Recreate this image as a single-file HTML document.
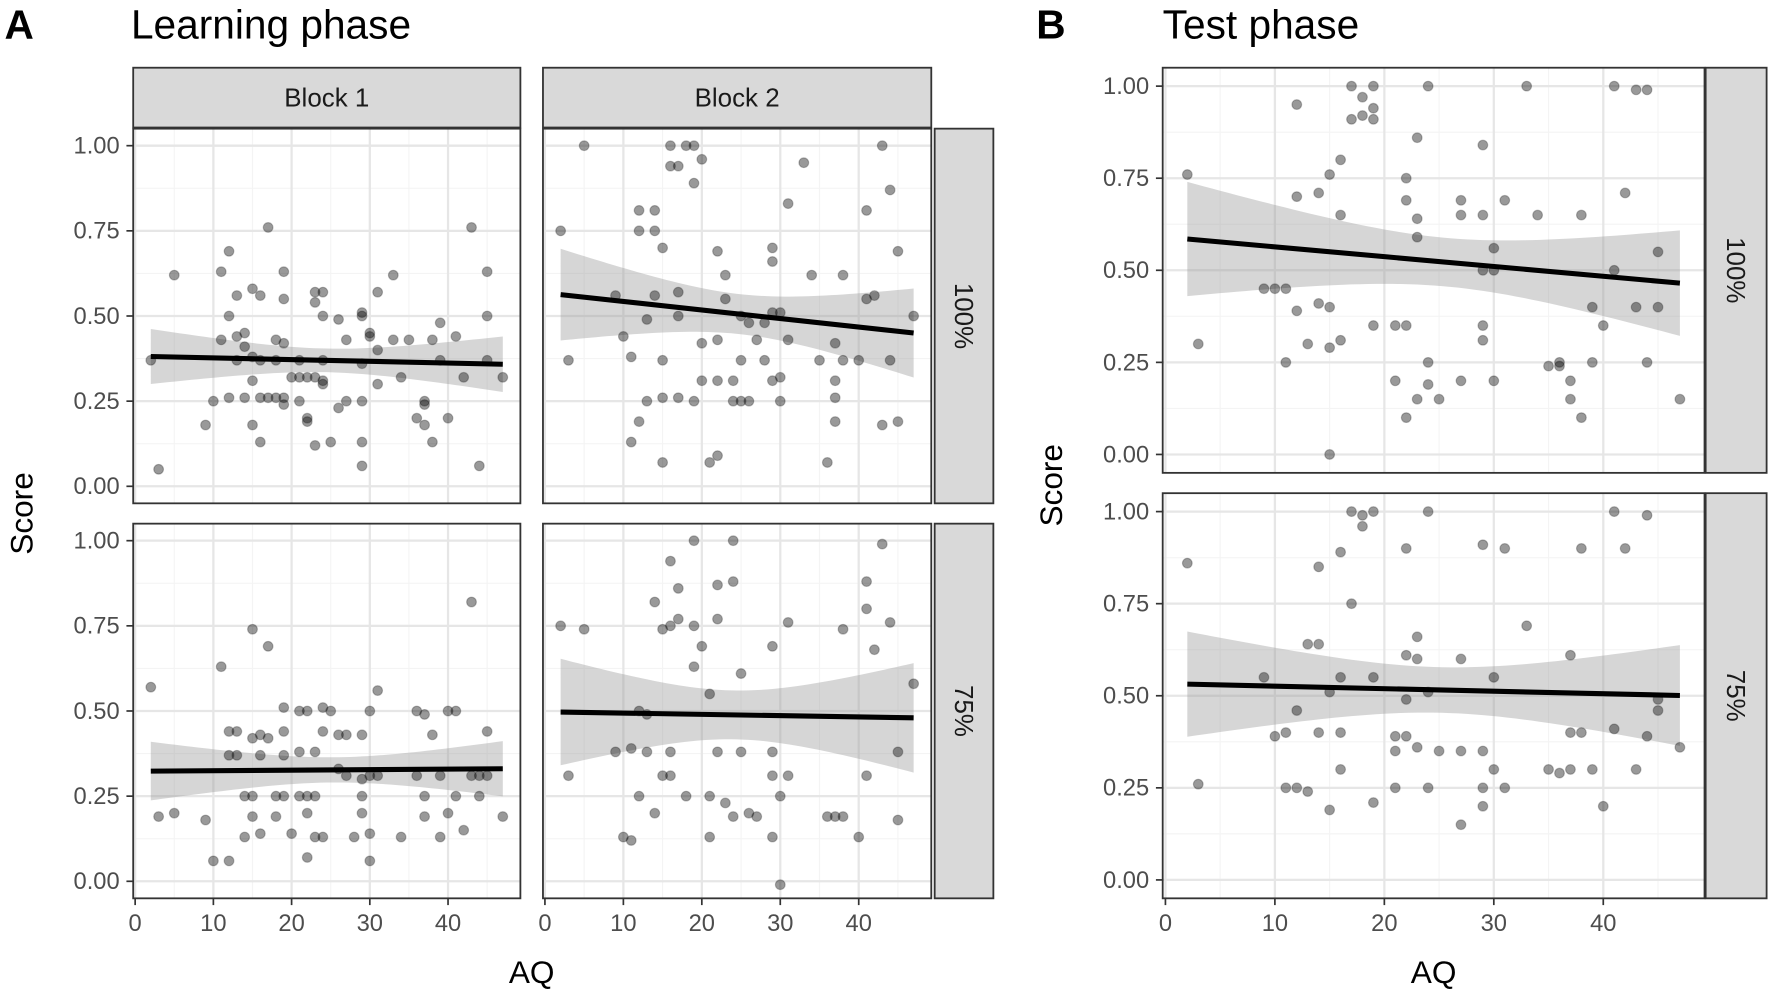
<!DOCTYPE html>
<html><head><meta charset="utf-8">
<style>
html,body{margin:0;padding:0;background:#fff;}
svg{display:block;font-family:"Liberation Sans",Arial,sans-serif;}
</style></head>
<body>
<svg id="chart" width="1770" height="992" viewBox="0 0 1568 879" preserveAspectRatio="none" xmlns="http://www.w3.org/2000/svg">
<text x="4" y="34" font-size="36" font-weight="bold">A</text>
<text x="116" y="34" font-size="36">Learning phase</text>
<text x="918" y="34" font-size="36" font-weight="bold">B</text>
<text x="1030" y="34" font-size="36">Test phase</text>
<text transform="translate(29,455) rotate(-90)" text-anchor="middle" font-size="28">Score</text>
<text transform="translate(941,430) rotate(-90)" text-anchor="middle" font-size="28">Score</text>
<text x="471" y="871" text-anchor="middle" font-size="28">AQ</text>
<text x="1270" y="871" text-anchor="middle" font-size="28">AQ</text>
</svg>
<script>
const xTicks=[0,10,20,30,40];
const yTicks=[0,0.25,0.5,0.75,1];
const yTickLabels=["0.00","0.25","0.50","0.75","1.00"];
const learnB1_100=[[2,.37],[3,.05],[5,.62],[9,.18],[10,.25],[11,.43],[11,.63],[12,.69],[12,.5],[12,.26],[13,.44],[13,.37],[13,.56],[14,.45],[14,.41],[14,.26],[15,.18],[15,.31],[15,.38],[15,.58],[16,.26],[16,.13],[16,.56],[16,.37],[17,.76],[17,.26],[18,.26],[18,.37],[18,.43],[19,.26],[19,.63],[19,.55],[19,.42],[19,.24],[20,.32],[21,.37],[21,.32],[21,.25],[22,.2],[22,.32],[22,.19],[23,.32],[23,.12],[23,.57],[23,.54],[24,.37],[24,.57],[24,.31],[24,.5],[24,.3],[25,.13],[26,.49],[26,.23],[27,.43],[27,.25],[29,.5],[29,.51],[29,.36],[29,.13],[29,.06],[29,.25],[30,.45],[30,.44],[31,.3],[31,.57],[31,.4],[33,.62],[33,.43],[34,.32],[35,.43],[36,.2],[37,.25],[37,.24],[37,.18],[38,.13],[38,.43],[39,.37],[39,.48],[40,.2],[41,.44],[42,.32],[43,.76],[44,.06],[45,.63],[45,.5],[45,.37],[47,.32]];
const learnB2_100=[[2,.75],[3,.37],[5,1.0],[9,.56],[10,.44],[11,.13],[11,.38],[12,.81],[12,.75],[12,.19],[13,.49],[13,.25],[14,.81],[14,.56],[14,.75],[15,.07],[15,.26],[15,.37],[15,.7],[16,1.0],[16,.94],[17,.94],[17,.5],[17,.57],[17,.26],[18,1.0],[19,1.0],[19,.89],[19,.25],[20,.42],[20,.31],[20,.96],[21,.07],[22,.09],[22,.31],[22,.43],[22,.69],[23,.55],[23,.62],[24,.25],[24,.31],[25,.5],[25,.37],[25,.25],[26,.48],[26,.25],[27,.43],[28,.48],[28,.37],[29,.31],[29,.7],[29,.66],[29,.51],[30,.32],[30,.25],[30,.51],[31,.83],[31,.43],[33,.95],[34,.62],[35,.37],[36,.07],[37,.31],[37,.26],[37,.19],[37,.42],[38,.37],[38,.62],[40,.37],[41,.81],[41,.55],[42,.56],[43,1.0],[43,.18],[44,.87],[44,.37],[45,.19],[45,.69],[47,.5]];
const learnB1_75=[[2,.57],[3,.19],[5,.2],[9,.18],[10,.06],[11,.63],[12,.06],[12,.44],[12,.37],[13,.44],[13,.37],[14,.13],[14,.25],[15,.74],[15,.25],[15,.42],[15,.19],[16,.43],[16,.14],[16,.37],[17,.69],[17,.42],[18,.25],[18,.19],[19,.51],[19,.44],[19,.25],[19,.37],[20,.14],[21,.5],[21,.25],[21,.38],[22,.07],[22,.25],[22,.2],[22,.5],[23,.38],[23,.13],[23,.25],[24,.44],[24,.51],[24,.13],[25,.5],[26,.43],[26,.33],[27,.43],[27,.31],[28,.13],[29,.25],[29,.43],[29,.3],[29,.2],[30,.5],[30,.06],[30,.31],[30,.14],[31,.56],[31,.31],[34,.13],[36,.31],[36,.5],[37,.49],[37,.25],[37,.19],[38,.43],[39,.13],[39,.31],[40,.5],[40,.2],[41,.5],[41,.25],[42,.15],[43,.82],[43,.31],[44,.25],[44,.31],[45,.31],[45,.44],[47,.19]];
const learnB2_75=[[2,.75],[3,.31],[5,.74],[9,.38],[10,.13],[11,.12],[11,.39],[12,.5],[12,.25],[13,.49],[13,.38],[14,.82],[14,.2],[15,.74],[15,.31],[16,.94],[16,.31],[16,.38],[16,.75],[17,.77],[17,.86],[18,.25],[19,1.0],[19,.63],[19,.75],[20,.69],[21,.25],[21,.55],[21,.13],[22,.87],[22,.38],[22,.77],[23,.23],[24,.19],[24,.88],[24,1.0],[25,.61],[25,.38],[26,.2],[27,.19],[29,.69],[29,.38],[29,.13],[29,.31],[30,-.01],[30,.25],[31,.76],[31,.31],[36,.19],[37,.19],[38,.74],[38,.19],[40,.13],[41,.88],[41,.8],[41,.31],[42,.68],[43,.99],[44,.76],[45,.18],[45,.38],[47,.58]];
const test100=[[2,.76],[3,.3],[9,.45],[10,.45],[11,.45],[11,.25],[12,.95],[12,.7],[12,.39],[13,.3],[14,.71],[14,.41],[15,.76],[15,.29],[15,0],[15,.4],[16,.31],[16,.65],[16,.8],[17,1.0],[17,.91],[18,.97],[18,.92],[19,1.0],[19,.91],[19,.35],[19,.94],[21,.35],[21,.2],[22,.75],[22,.69],[22,.35],[22,.1],[23,.86],[23,.64],[23,.15],[23,.59],[24,1.0],[24,.25],[24,.19],[25,.15],[27,.69],[27,.65],[27,.2],[29,.65],[29,.84],[29,.5],[29,.35],[29,.31],[30,.2],[30,.56],[30,.5],[31,.69],[33,1.0],[34,.65],[35,.24],[36,.25],[36,.24],[37,.2],[37,.15],[38,.65],[38,.1],[39,.25],[39,.4],[40,.35],[41,.5],[41,1.0],[42,.71],[43,.4],[43,.99],[44,.99],[44,.25],[45,.55],[45,.4],[47,.15]];
const test75=[[2,.86],[3,.26],[9,.55],[10,.39],[11,.4],[11,.25],[12,.46],[12,.25],[13,.24],[13,.64],[14,.85],[14,.4],[14,.64],[15,.51],[15,.19],[16,.55],[16,.4],[16,.3],[16,.89],[17,1.0],[17,.75],[18,.99],[18,.96],[19,1.0],[19,.21],[19,.55],[21,.25],[21,.39],[21,.35],[22,.9],[22,.61],[22,.49],[22,.39],[23,.66],[23,.36],[23,.6],[24,1.0],[24,.25],[24,.51],[25,.35],[27,.6],[27,.35],[27,.15],[29,.91],[29,.35],[29,.25],[29,.2],[30,.3],[30,.55],[31,.9],[31,.25],[33,.69],[35,.3],[36,.29],[37,.3],[37,.4],[37,.61],[38,.9],[38,.4],[39,.3],[40,.2],[41,.41],[41,1.0],[42,.9],[43,.3],[44,.99],[44,.39],[45,.49],[45,.46],[47,.36]];

const NS="http://www.w3.org/2000/svg";
const svg=document.getElementById('chart');
function mk(tag,attrs,parent){const e=document.createElementNS(NS,tag);for(const k in attrs)e.setAttribute(k,attrs[k]);(parent||svg).appendChild(e);return e;}

function panel(name,L,T,W,H,data,showY,showX){
  const xmin=-0.25,xmax=49.25,ymin=-0.05,ymax=1.05;
  const sx=v=>L+(v-xmin)/(xmax-xmin)*W;
  const sy=v=>T+H-(v-ymin)/(ymax-ymin)*H;
  const g=mk('g',{});
  
  
  mk('rect',{x:L,y:T,width:W,height:H,fill:'#fff'},g);
  for(let v=5;v<49;v+=10){mk('line',{x1:sx(v),x2:sx(v),y1:T,y2:T+H,stroke:'#f4f4f4','stroke-width':1},g);}
  for(let v=0.125;v<1.05;v+=0.25){mk('line',{x1:L,x2:L+W,y1:sy(v),y2:sy(v),stroke:'#f4f4f4','stroke-width':1},g);}
  xTicks.forEach(v=>{const l=mk('line',{x1:sx(v),x2:sx(v),y1:T,y2:T+H,stroke:'#e6e6e6','stroke-width':2},g);
    
    });
  yTicks.forEach(v=>{const l=mk('line',{x1:L,x2:L+W,y1:sy(v),y2:sy(v),stroke:'#e6e6e6','stroke-width':2},g);
    
    });
  const n=data.length;let mx=0,my=0;data.forEach(d=>{mx+=d[0];my+=d[1];});mx/=n;my/=n;
  let sxx=0,sxy=0;data.forEach(d=>{sxx+=(d[0]-mx)**2;sxy+=(d[0]-mx)*(d[1]-my);});
  const b=sxy/sxx,a=my-b*mx;let sse=0;data.forEach(d=>{sse+=(d[1]-a-b*d[0])**2;});
  const s=Math.sqrt(sse/(n-2)),t=1.99;
  const x0=Math.min(...data.map(d=>d[0])),x1=Math.max(...data.map(d=>d[0]));
  const up=[],lo=[];
  for(let i=0;i<=60;i++){const x=x0+(x1-x0)*i/60;const f=a+b*x;const se=s*Math.sqrt(1/n+(x-mx)**2/sxx);
    up.push(sx(x)+','+sy(f+t*se));lo.unshift(sx(x)+','+sy(f-t*se));}
  const rib=mk('polygon',{points:up.concat(lo).join(' '),fill:'#999',opacity:0.4},g);
  
  
  data.forEach(d=>{const c=mk('circle',{cx:sx(d[0]),cy:sy(d[1]),r:4.3,fill:'rgba(0,0,0,0.4)',stroke:'rgba(0,0,0,0.25)','stroke-width':1},g);
    
    });
  const rl=mk('line',{x1:sx(x0),y1:sy(a+b*x0),x2:sx(x1),y2:sy(a+b*x1),stroke:'#000','stroke-width':4.5},g);
  
  
  mk('rect',{x:L,y:T,width:W,height:H,fill:'none',stroke:'#333','stroke-width':1.6},g);
  if(showY){yTicks.forEach((v,i)=>{mk('line',{x1:L-6,x2:L,y1:sy(v),y2:sy(v),stroke:'#333','stroke-width':1.5},g);
    const tx=mk('text',{x:L-12,y:sy(v)+7,'text-anchor':'end','font-size':21,fill:'#4d4d4d'},g);tx.textContent=yTickLabels[i];
    
    });}
  if(showX){xTicks.forEach(v=>{mk('line',{x1:sx(v),x2:sx(v),y1:T+H,y2:T+H+6,stroke:'#333','stroke-width':1.5},g);
    const tx=mk('text',{x:sx(v),y:T+H+29,'text-anchor':'middle','font-size':21,fill:'#4d4d4d'},g);tx.textContent=v;
    
    });}
}
function strip(name,x,y,w,h,label,rot){
  const r=mk('rect',{x:x,y:y,width:w,height:h,fill:'#d9d9d9',stroke:'#333','stroke-width':1.6});
  
  
  const cx=x+w/2,cy=y+h/2;
  const t=mk('text',rot?{transform:`translate(${cx-8},${cy}) rotate(90)`,'text-anchor':'middle','font-size':23,fill:'#1a1a1a'}:{x:cx,y:cy+8,'text-anchor':'middle','font-size':23,fill:'#1a1a1a'});
  t.textContent=label;
  
  
}
strip('strip-block-1',118,60,343,53,'Block 1',false);
strip('strip-block-2',481,60,344,53,'Block 2',false);
strip('strip-a-100',828,114,52,332,'100%',true);
strip('strip-a-75',828,464,52,332,'75%',true);
strip('strip-b-100',1511,60,54,359,'100%',true);
strip('strip-b-75',1511,437,54,359,'75%',true);
panel('panel-learning-block1-100',118,114,343,332,learnB1_100,true,false);
panel('panel-learning-block2-100',481,114,344,332,learnB2_100,false,false);
panel('panel-learning-block1-75',118,464,343,332,learnB1_75,true,true);
panel('panel-learning-block2-75',481,464,344,332,learnB2_75,false,true);
panel('panel-test-100',1030,60,480,359,test100,true,false);
panel('panel-test-75',1030,437,480,359,test75,true,true);
</script>
</body></html>
